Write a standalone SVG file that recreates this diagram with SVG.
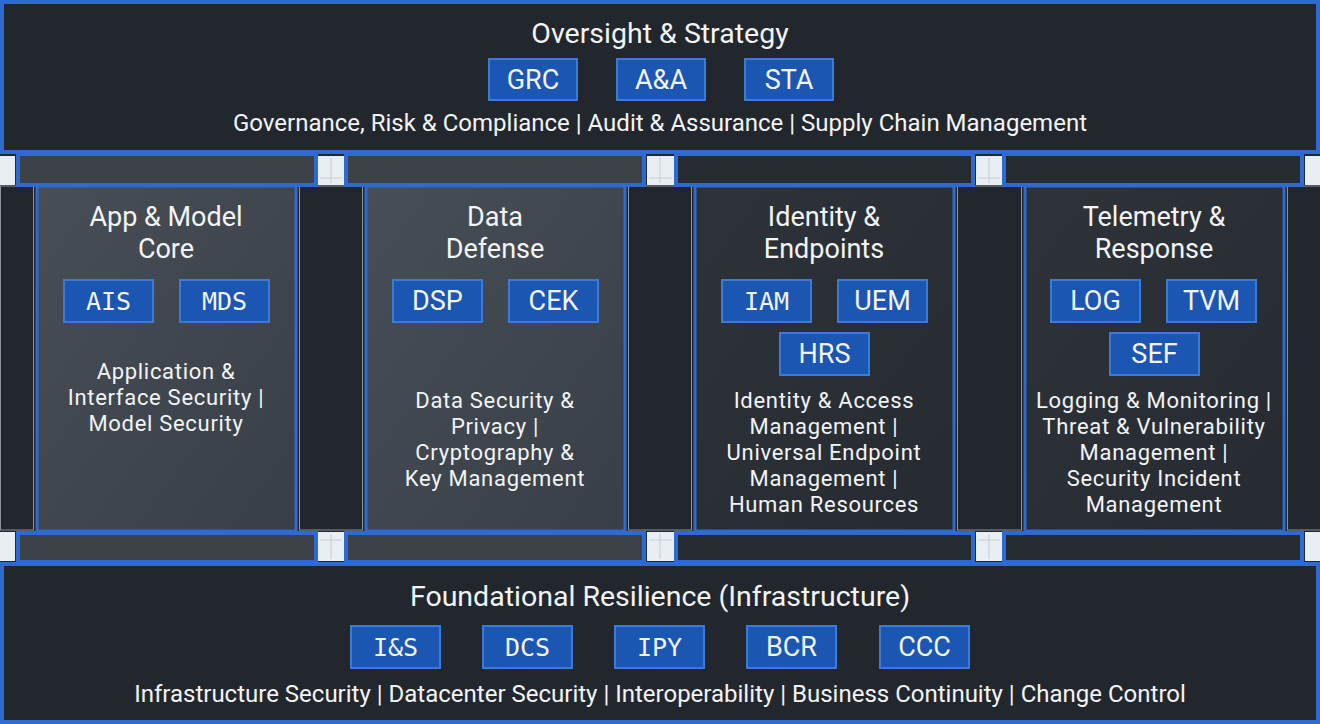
<svg xmlns="http://www.w3.org/2000/svg" width="1320" height="724" viewBox="0 0 1320 724">
<defs>
<linearGradient id="gLight" x1="0" y1="0" x2="1" y2="1">
<stop offset="0" stop-color="#484e55"/>
<stop offset="1" stop-color="#393f46"/>
</linearGradient>
<linearGradient id="gDark" x1="0" y1="0" x2="1" y2="1">
<stop offset="0" stop-color="#2e3339"/>
<stop offset="1" stop-color="#262b31"/>
</linearGradient>
<style>
.banner{fill:#22272d;stroke:#2f6ad0;stroke-width:4}
.slimL{fill:#3c4248;stroke:#2f6ad0;stroke-width:4}
.slimD{fill:#272c32;stroke:#2f6ad0;stroke-width:4}
.colL{fill:url(#gLight);stroke:#2f6ad0;stroke-width:3}
.colD{fill:url(#gDark);stroke:#2f6ad0;stroke-width:3}
.strip{fill:#22272d;stroke:#8d939b;stroke-width:1}
.sq{fill:#e9eef2}
.sqline{stroke:#c5ccd4;stroke-width:1}
.badge{fill:#1b56b2;stroke:#3c7ad9;stroke-width:2}
.t{font-family:Roboto,"Noto Sans","DejaVu Sans",sans-serif;fill:#f2f4f6;text-anchor:middle}
.title{font-size:28.5px}
.ctitle{font-size:27px}
.sub{font-size:24px}
.desc{font-size:22px;letter-spacing:0.7px}
.b{font-family:Roboto,"Noto Sans",sans-serif;font-size:27px;fill:#f2f4f6;text-anchor:middle}
.bm{font-family:"DejaVu Sans Mono","Liberation Mono",monospace;font-size:25px;fill:#f2f4f6;text-anchor:middle}
</style>
</defs>
<rect width="1320" height="724" fill="#22272d"/>

<g id="frame">
<rect class="strip" x="0.5" y="186" width="33" height="344"/>
<rect class="strip" x="299.5" y="186" width="63" height="344"/>
<rect class="strip" x="628.5" y="186" width="63" height="344"/>
<rect class="strip" x="957.5" y="186" width="64" height="344"/>
<rect class="strip" x="1287.5" y="186" width="33" height="344"/>
<rect class="slimL" x="18" y="154" width="298" height="31"/>
<rect class="slimL" x="346" y="154" width="298" height="31"/>
<rect class="slimD" x="676" y="154" width="297" height="31"/>
<rect class="slimD" x="1004" y="154" width="298" height="31"/>
<rect class="slimL" x="18" y="533" width="298" height="29"/>
<rect class="slimL" x="346" y="533" width="298" height="29"/>
<rect class="slimD" x="676" y="533" width="297" height="29"/>
<rect class="slimD" x="1004" y="533" width="298" height="29"/>
<rect class="sq" x="0" y="156" width="15" height="29"/>
<rect class="sq" x="318" y="156" width="26" height="29"/>
<rect class="sq" x="647" y="156" width="27" height="29"/>
<rect class="sq" x="976" y="156" width="26" height="29"/>
<rect class="sq" x="1305" y="156" width="15" height="29"/>
<rect class="sq" x="0" y="532" width="15" height="29"/>
<rect class="sq" x="318" y="532" width="26" height="29"/>
<rect class="sq" x="647" y="532" width="27" height="29"/>
<rect class="sq" x="976" y="532" width="26" height="29"/>
<rect class="sq" x="1305" y="532" width="15" height="29"/>
<g class="sqline">
<line x1="331" y1="158" x2="331" y2="183"/><line x1="320" y1="178" x2="342" y2="178"/>
<line x1="660" y1="158" x2="660" y2="183"/><line x1="649" y1="178" x2="672" y2="178"/>
<line x1="989" y1="158" x2="989" y2="183"/><line x1="978" y1="178" x2="1000" y2="178"/>
<line x1="331" y1="534" x2="331" y2="559"/><line x1="320" y1="540" x2="342" y2="540"/>
<line x1="660" y1="534" x2="660" y2="559"/><line x1="649" y1="540" x2="672" y2="540"/>
<line x1="989" y1="534" x2="989" y2="559"/><line x1="978" y1="540" x2="1000" y2="540"/>
</g>
</g>

<g id="oversight">
<rect class="banner" x="2" y="2" width="1316" height="150"/>
<text class="t title" x="660" y="43">Oversight &amp; Strategy</text>
<rect class="badge" x="489" y="59" width="88" height="41"/>
<text class="b" x="533" y="89">GRC</text>
<rect class="badge" x="617" y="59" width="88" height="41"/>
<text class="b" x="661" y="89">A&amp;A</text>
<rect class="badge" x="745" y="59" width="88" height="41"/>
<text class="b" x="789" y="89">STA</text>
<text class="t sub" x="660" y="131">Governance, Risk &amp; Compliance | Audit &amp; Assurance | Supply Chain Management</text>
</g>

<g id="app-model-core">
<rect class="colL" x="37" y="186" width="259" height="345"/>
<text class="t ctitle" x="166" y="226">App &amp; Model</text>
<text class="t ctitle" x="166" y="258">Core</text>
<rect class="badge" x="64" y="280" width="89" height="42"/>
<text class="bm" x="108.5" y="310">AIS</text>
<rect class="badge" x="180" y="280" width="89" height="42"/>
<text class="bm" x="224.5" y="310">MDS</text>
<text class="t desc" x="166" y="379">Application &amp;</text>
<text class="t desc" x="166" y="405">Interface Security |</text>
<text class="t desc" x="166" y="431">Model Security</text>
</g>

<g id="data-defense">
<rect class="colL" x="366" y="186" width="259" height="345"/>
<text class="t ctitle" x="495" y="226">Data</text>
<text class="t ctitle" x="495" y="258">Defense</text>
<rect class="badge" x="393" y="280" width="89" height="42"/>
<text class="b" x="437.5" y="310">DSP</text>
<rect class="badge" x="509" y="280" width="89" height="42"/>
<text class="b" x="553.5" y="310">CEK</text>
<text class="t desc" x="495" y="408">Data Security &amp;</text>
<text class="t desc" x="495" y="434">Privacy |</text>
<text class="t desc" x="495" y="460">Cryptography &amp;</text>
<text class="t desc" x="495" y="486">Key Management</text>
</g>

<g id="identity-endpoints">
<rect class="colD" x="695" y="186" width="259" height="345"/>
<text class="t ctitle" x="824" y="226">Identity &amp;</text>
<text class="t ctitle" x="824" y="258">Endpoints</text>
<rect class="badge" x="722" y="280" width="89" height="42"/>
<text class="bm" x="766.5" y="310">IAM</text>
<rect class="badge" x="838" y="280" width="89" height="42"/>
<text class="b" x="882.5" y="310">UEM</text>
<rect class="badge" x="780" y="333" width="89" height="42"/>
<text class="b" x="824.5" y="363">HRS</text>
<text class="t desc" x="824" y="408">Identity &amp; Access</text>
<text class="t desc" x="824" y="434">Management |</text>
<text class="t desc" x="824" y="460">Universal Endpoint</text>
<text class="t desc" x="824" y="486">Management |</text>
<text class="t desc" x="824" y="512">Human Resources</text>
</g>

<g id="telemetry-response">
<rect class="colD" x="1025" y="186" width="259" height="345"/>
<text class="t ctitle" x="1154" y="226">Telemetry &amp;</text>
<text class="t ctitle" x="1154" y="258">Response</text>
<rect class="badge" x="1051" y="280" width="89" height="42"/>
<text class="b" x="1095.5" y="310">LOG</text>
<rect class="badge" x="1167" y="280" width="89" height="42"/>
<text class="b" x="1211.5" y="310">TVM</text>
<rect class="badge" x="1110" y="333" width="89" height="42"/>
<text class="b" x="1154.5" y="363">SEF</text>
<text class="t desc" x="1154" y="408">Logging &amp; Monitoring |</text>
<text class="t desc" x="1154" y="434">Threat &amp; Vulnerability</text>
<text class="t desc" x="1154" y="460">Management |</text>
<text class="t desc" x="1154" y="486">Security Incident</text>
<text class="t desc" x="1154" y="512">Management</text>
</g>

<g id="foundational">
<rect class="banner" x="2" y="564" width="1316" height="158"/>
<text class="t title" x="660" y="606">Foundational Resilience (Infrastructure)</text>
<rect class="badge" x="351" y="626" width="89" height="42"/>
<text class="bm" x="395.5" y="656">I&amp;S</text>
<rect class="badge" x="483" y="626" width="89" height="42"/>
<text class="bm" x="527.5" y="656">DCS</text>
<rect class="badge" x="615" y="626" width="89" height="42"/>
<text class="bm" x="659.5" y="656">IPY</text>
<rect class="badge" x="747" y="626" width="89" height="42"/>
<text class="b" x="791.5" y="656">BCR</text>
<rect class="badge" x="880" y="626" width="89" height="42"/>
<text class="b" x="924.5" y="656">CCC</text>
<text class="t sub" x="660" y="702">Infrastructure Security | Datacenter Security | Interoperability | Business Continuity | Change Control</text>
</g>

<g id="connectors"></g>
</svg>
